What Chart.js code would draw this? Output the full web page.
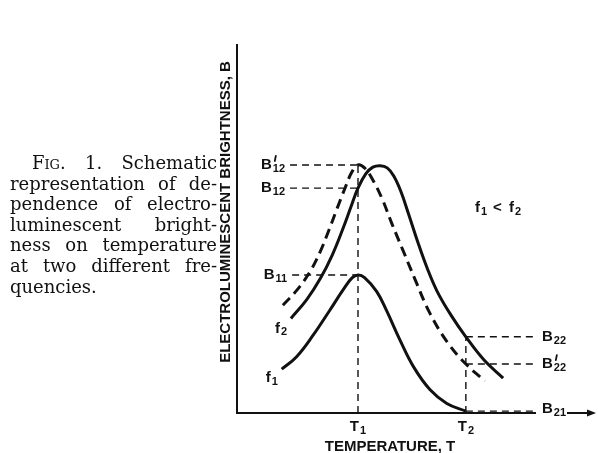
<!DOCTYPE html>
<html>
<head>
<meta charset="utf-8">
<script src="https://cdn.jsdelivr.net/npm/chart.js@4"></script>
<style>
  html, body { margin: 0; padding: 0; background: #fff; }
  #wrap { position: relative; width: 598px; height: 453px; }
  #chart { position: absolute; left: 0; top: 0; }
  #caption {
    position: absolute; left: 10px; top: 153px; width: 207px;
    font-family: "DejaVu Serif", "Liberation Serif", serif;
    font-size: 18px; line-height: 20.6px; color: #111;
  }
  #caption div { text-align: justify; text-align-last: justify; white-space: nowrap; }
  #caption div.first { padding-left: 22px; }
  #caption div.last { text-align-last: left; }
  .sc { font-variant: small-caps; }
</style>
</head>
<body>
<div id="wrap">
  <canvas id="chart" width="598" height="453"></canvas>
  <div id="caption">
    <div class="first"><span class="sc">Fig.</span> 1. Schematic</div>
    <div>representation of de-</div>
    <div>pendence of electro-</div>
    <div>luminescent bright-</div>
    <div>ness on temperature</div>
    <div>at two different fre-</div>
    <div class="last">quencies.</div>
  </div>
</div>
<script>
// Schematic: brightness B vs temperature T, frequencies f1 < f2

const T1 = 40.6;
const T2 = 76.8;

// f1 curve (solid, lower)
const f1X = [15.0, 20.0, 25.6, 31.2, 35.7, 38.6, 40.6, 42.8, 46.9, 50.2, 54.7, 59.2, 64.8, 70.4, 76.8];
const f1Y = [11.9, 15.3, 21.2, 28.0, 33.6, 36.7, 37.5, 36.8, 33.0, 27.8, 19.8, 12.6, 6.3, 2.6, 0.5];

// f2 curve (solid, upper)
const f2X = [18.1, 23.4, 28.0, 32.0, 35.5, 38.4, 40.6, 43.2, 45.6, 48.0, 50.4, 52.6, 55.0, 57.6, 60.6, 63.8, 67.2, 71.8, 76.8, 82.9, 89.3];
const f2Y = [25.7, 30.8, 36.6, 43.0, 50.0, 56.4, 61.1, 65.0, 66.8, 67.2, 66.6, 64.4, 60.2, 54.0, 46.6, 39.4, 33.0, 26.6, 20.7, 14.4, 9.5];

// f2 curve shifted so its peak sits at T1 (dashed)
const f2sX = [15.4, 20.1, 24.5, 27.9, 30.8, 33.6, 36.2, 38.5, 40.6, 42.8, 45.4, 48.6, 52.0, 55.7, 59.7, 64.8, 70.8, 76.8, 83.2];
const f2sY = [29.3, 33.4, 38.4, 43.8, 49.6, 55.6, 61.0, 65.4, 67.4, 66.6, 63.6, 58.4, 51.4, 44.2, 36.4, 27.0, 19.0, 13.3, 8.7];

const levelBase  = ['B', 'B', 'B', 'B', 'B', 'B'];
const levelSub   = ['12', '12', '11', '22', '22', '21'];
const levelPrime = [true, false, false, false, true, false];
const levelY     = [67.4, 61.1, 37.5, 20.7, 13.3, 0.5];
const levelFrom  = [17.8, 17.8, 18.5, T2, T2, T2];
const levelTo    = [T1, T1, T1, 100, 100, 100];

// temperature ticks
const tickValues = [T1, T2];
const tickSubs = ['1', '2'];

const INK = '#111';
const LABEL_FONT = "'Liberation Sans', 'DejaVu Sans', sans-serif";

function pts(xs, ys) {
    return xs.map((x, i) => ({ x: x, y: ys[i] }));
}

const datasets = [
    { data: pts(f1X, f1Y), borderWidth: 3, tension: 0.4 },
    { data: pts(f2X, f2Y), borderWidth: 3, tension: 0.4 },
    { data: pts(f2sX, f2sY), borderWidth: 3, borderDash: [10, 6], tension: 0.4 }
];

// dashed guide lines
levelY.forEach((y, i) => {
    datasets.push({ data: [{ x: levelFrom[i], y: y }, { x: levelTo[i], y: y }], borderWidth: 1.4, borderDash: [7, 5] });
});
datasets.push({ data: [{ x: T1, y: 0 }, { x: T1, y: levelY[0] }], borderWidth: 1.4, borderDash: [7, 5] });
datasets.push({ data: [{ x: T2, y: 0 }, { x: T2, y: levelY[3] }], borderWidth: 1.4, borderDash: [7, 5] });

datasets.forEach(d => {
    d.borderColor = INK;
    d.pointRadius = 0;
    d.fill = false;
});

// letter with subscript (and optional prime)
function drawSub(ctx, x, y, base, sub, prime, align) {
    ctx.font = 'bold 15px ' + LABEL_FONT;
    const wb = ctx.measureText(base).width;
    ctx.font = 'bold 11px ' + LABEL_FONT;
    const ws = ctx.measureText(sub).width;
    let left = x;
    if (align === 'right') left = x - wb - ws - 1;
    if (align === 'center') left = x - (wb + ws + 1) / 2;
    ctx.textAlign = 'left';
    ctx.textBaseline = 'middle';
    ctx.font = 'bold 15px ' + LABEL_FONT;
    ctx.fillText(base, left, y);
    ctx.font = 'bold 11px ' + LABEL_FONT;
    ctx.fillText(sub, left + wb + 1, y + 4);
    if (prime) {
        // small prime stroke above the subscript
        ctx.save();
        ctx.lineWidth = 1.8;
        ctx.lineCap = 'round';
        ctx.beginPath();
        ctx.moveTo(left + wb + 4, y - 9);
        ctx.lineTo(left + wb + 3, y - 4);
        ctx.stroke();
        ctx.restore();
    }
}

const annotate = {
    id: 'annotate',
    afterDraw(chart) {
        const ctx = chart.ctx;
        const xs = chart.scales.x, ys = chart.scales.y;
        ctx.save();
        ctx.fillStyle = INK;
        ctx.strokeStyle = INK;

        // level labels
        levelY.forEach((v, i) => {
            const py = ys.getPixelForValue(v);
            if (levelTo[i] === T1) {
                drawSub(ctx, xs.getPixelForValue(levelFrom[i]) - 5, py, levelBase[i], levelSub[i], levelPrime[i], 'right');
            } else {
                drawSub(ctx, xs.getPixelForValue(100) + 7, py - (i === 5 ? 2 : 0), levelBase[i], levelSub[i], levelPrime[i], 'left');
            }
        });

        // temperature tick labels
        const ay = chart.chartArea.bottom;
        xs.ticks.forEach((t, i) => {
            drawSub(ctx, xs.getPixelForValue(t.value), ay + 14, 'T', tickSubs[i], false, 'center');
        });

        // curve labels
        drawSub(ctx, xs.getPixelForValue(f2X[0]) - 16, ys.getPixelForValue(f2Y[0]) + 10, 'f', '2', false, 'left');
        drawSub(ctx, xs.getPixelForValue(f1X[0]) - 16, ys.getPixelForValue(f1Y[0]) + 9, 'f', '1', false, 'left');

        // f1 < f2
        const x0 = 475, y0 = 208;
        drawSub(ctx, x0, y0, 'f', '1', false, 'left');
        ctx.font = 'bold 15px ' + LABEL_FONT;
        ctx.fillText('<', x0 + 18, y0);
        drawSub(ctx, x0 + 34, y0, 'f', '2', false, 'left');

        // rest of the temperature axis, with arrow
        ctx.lineWidth = 2;
        ctx.beginPath();
        ctx.moveTo(567, ay);
        ctx.lineTo(590, ay);
        ctx.stroke();
        ctx.beginPath();
        ctx.moveTo(596, ay);
        ctx.lineTo(587, ay - 3.5);
        ctx.lineTo(587, ay + 3.5);
        ctx.closePath();
        ctx.fill();

        // axis titles
        ctx.font = 'bold 15px ' + LABEL_FONT;
        ctx.textAlign = 'center';
        ctx.textBaseline = 'middle';
        ctx.fillText('TEMPERATURE, T', 390, 447);
        ctx.translate(226, 212);
        ctx.rotate(-Math.PI / 2);
        ctx.fillText('ELECTROLUMINESCENT BRIGHTNESS, B', 0, 0);
        ctx.restore();
    }
};

const chart = new Chart(document.getElementById('chart'), {
    type: 'line',
    data: { datasets: datasets },
    options: {
        responsive: false,
        animation: false,
        events: [],
        layout: { padding: { left: 237, right: 63, top: 45, bottom: 40 } },
        plugins: { legend: { display: false }, tooltip: { enabled: false } },
        scales: {
            x: {
                type: 'linear', min: 0, max: 100,
                grid: { display: false, drawTicks: false },
                border: { display: true, color: INK, width: 2 },
                afterBuildTicks: (scale) => { scale.ticks = tickValues.map(v => ({ value: v })); },
                ticks: { display: false }
            },
            y: {
                type: 'linear', min: 0, max: 100,
                grid: { display: false, drawTicks: false },
                border: { display: true, color: INK, width: 2 },
                ticks: { display: false }
            }
        }
    },
    plugins: [annotate]
});
</script>
</body>
</html>
